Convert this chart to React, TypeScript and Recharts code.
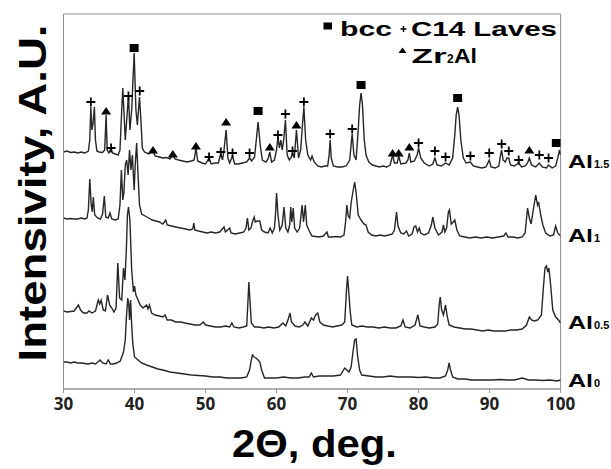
import React from "react";
import { ComposedChart, Line, Scatter, XAxis, YAxis, ReferenceArea } from "recharts";

// 2-theta (deg) vs stacked intensity (a.u.)
const al15: [number, number][] = [
  [30, 237], [30.5, 238], [31, 236.5], [31.5, 237], [32, 236], [32.5, 237], [33, 236], [33.5, 238], [33.7, 249], [33.85, 282],
  [34, 259], [34.15, 265], [34.35, 282], [34.5, 249], [34.7, 238], [35, 237], [35.5, 236.5], [35.8, 239], [36, 274], [36.15, 239],
  [36.4, 236], [36.7, 241], [36.9, 236], [37.3, 235], [37.7, 234], [37.95, 239], [38.2, 279], [38.35, 301], [38.5, 279], [38.7, 249],
  [38.9, 269], [39.15, 294], [39.35, 259], [39.6, 279], [39.95, 336], [40.2, 279], [40.4, 264], [40.7, 292], [40.9, 269], [41.1, 241],
  [41.4, 237], [42, 235], [42.6, 238], [42.9, 233], [43.5, 232], [44, 231], [44.5, 231.5], [45, 230], [45.4, 234], [45.7, 230],
  [46.2, 229], [46.8, 228], [47.4, 227], [48, 228], [48.4, 229], [48.65, 241], [48.9, 228], [49.5, 226], [50, 225], [50.5, 231],
  [50.8, 225], [51.3, 226], [51.8, 226], [52.15, 235], [52.4, 229], [52.6, 239], [52.9, 259], [53.15, 231], [53.4, 226], [53.8, 233],
  [54.1, 225], [54.6, 225], [55.2, 226], [55.8, 227], [56.2, 231], [56.5, 228], [56.9, 232], [57.15, 249], [57.4, 267], [57.7, 244],
  [58, 229], [58.5, 227], [58.8, 230], [59.05, 237], [59.3, 227], [59.7, 229], [60, 239], [60.2, 252], [60.4, 241], [60.6, 249],
  [60.8, 239], [61, 249], [61.25, 269], [61.5, 234], [61.8, 229], [62.1, 232], [62.25, 236], [62.5, 231], [62.8, 259], [63.1, 231],
  [63.4, 239], [63.65, 264], [63.85, 282], [64.1, 249], [64.4, 234], [64.8, 229], [65, 233], [65.3, 227], [65.8, 223], [66.3, 222],
  [66.8, 223], [67.2, 223], [67.4, 234], [67.55, 249], [67.7, 231], [68, 223], [68.6, 222], [69.2, 222], [69.8, 223], [70.3, 229],
  [70.5, 244], [70.65, 255], [70.9, 234], [71.2, 229], [71.5, 259], [71.7, 284], [71.9, 296], [72.1, 284], [72.35, 249], [72.6, 234],
  [73, 227], [73.5, 224], [74, 223], [74.5, 222], [75, 223], [75.5, 222], [76, 224], [76.35, 234], [76.6, 226], [77, 226],
  [77.2, 233], [77.5, 225], [78.2, 226], [78.5, 229], [78.7, 236], [78.9, 227], [79.4, 228], [79.8, 234], [80, 241], [80.3, 231],
  [80.8, 226], [81.5, 223], [82, 225], [82.3, 231], [82.6, 224], [83.2, 223], [83.8, 226], [84.3, 224], [84.8, 231], [85.1, 254],
  [85.3, 274], [85.5, 282], [85.7, 274], [85.95, 249], [86.3, 231], [86.7, 226], [87.3, 227], [87.7, 223], [88.3, 222], [88.9, 221],
  [89.5, 222], [89.95, 229], [90.2, 222], [90.8, 221], [91.3, 223], [91.55, 234], [91.7, 239], [91.9, 229], [92.2, 227], [92.45, 231],
  [92.7, 231], [92.95, 224], [93.5, 223], [94.1, 226], [94.5, 222], [95, 223], [95.35, 226], [95.6, 231], [95.9, 224], [96.5, 222],
  [97, 226], [97.4, 222], [98, 221], [98.3, 224], [98.8, 221], [99.3, 223], [99.6, 231], [99.85, 239], [100, 234],
];

const al1: [number, number][] = [
  [30, 171], [30.5, 170], [31, 170.5], [31.5, 170], [32, 170], [32.5, 171], [33, 170], [33.3, 171], [33.5, 179], [33.7, 210],
  [33.9, 184], [34.05, 177], [34.2, 192], [34.4, 174], [34.8, 171], [35.2, 170], [35.5, 175], [35.75, 193], [35.95, 172], [36.3, 171],
  [36.55, 176], [36.8, 170], [37.3, 169], [37.7, 170], [37.95, 184], [38.15, 219], [38.35, 189], [38.5, 196], [38.7, 224], [38.9, 229],
  [39.1, 214], [39.3, 239], [39.5, 219], [39.7, 234], [39.95, 199], [40.1, 224], [40.3, 246], [40.5, 214], [40.7, 184], [41, 175],
  [41.5, 173], [42, 171], [42.5, 169], [43, 168], [43.5, 167], [44, 165], [44.4, 169], [44.6, 164], [45.2, 163], [45.8, 162],
  [46.5, 161], [47.2, 160], [47.8, 159], [48.2, 160], [48.35, 166], [48.5, 159], [49, 158], [49.6, 157], [50.2, 156], [50.8, 157],
  [51.4, 156], [52, 157], [52.6, 162], [52.8, 157], [53.4, 161], [53.6, 156], [54.2, 155], [54.8, 156], [55.4, 157], [55.7, 161],
  [55.9, 171], [56.1, 159], [56.4, 161], [56.6, 167], [56.85, 172], [57, 167], [57.3, 168], [57.65, 168], [57.9, 159], [58.3, 157],
  [58.8, 156], [59.1, 161], [59.4, 156], [59.7, 161], [59.85, 174], [60, 196], [60.2, 174], [60.45, 159], [60.8, 164], [61.05, 182],
  [61.3, 161], [61.6, 157], [61.85, 164], [62, 182], [62.15, 167], [62.35, 181], [62.55, 161], [62.9, 157], [63.25, 161], [63.45, 174],
  [63.6, 184], [63.8, 167], [64.05, 184], [64.25, 164], [64.6, 158], [65, 153], [65.5, 152.5], [66, 152], [66.6, 153], [67.1, 157],
  [67.3, 152], [67.8, 152], [68.4, 152.5], [69, 152], [69.5, 154], [69.75, 169], [69.9, 184], [70.1, 173], [70.3, 171], [70.5, 186],
  [70.8, 199], [71, 207], [71.2, 197], [71.5, 174], [71.9, 169], [72.3, 165], [72.6, 164], [72.9, 157], [73.4, 154], [74, 153],
  [74.6, 154], [75.2, 153], [75.8, 154], [76.3, 155], [76.6, 159], [76.9, 177], [77.1, 163], [77.5, 156], [77.9, 155], [78.3, 158],
  [78.6, 153], [79.1, 155], [79.35, 162], [79.6, 163], [79.85, 157], [80.1, 161], [80.3, 156], [80.8, 154], [81.4, 156], [81.8, 164],
  [82, 172], [82.3, 161], [82.8, 154], [83.3, 157], [83.5, 164], [83.7, 157], [83.95, 161], [84.2, 177], [84.35, 179], [84.6, 165],
  [84.9, 167], [85.1, 169], [85.4, 159], [85.8, 153], [86.5, 152], [87.2, 151], [88, 152], [88.8, 151], [89.6, 152], [90.4, 151],
  [91.2, 152], [92, 153], [92.3, 156], [92.6, 152], [93.3, 152], [94, 151], [94.6, 152], [95, 156], [95.35, 181], [95.6, 171],
  [95.85, 165], [96.15, 179], [96.5, 194], [96.75, 184], [96.9, 187], [97.2, 174], [97.5, 164], [97.9, 156], [98.5, 153], [99, 154],
  [99.3, 163], [99.6, 156], [100, 153],
];

const al05: [number, number][] = [
  [30, 78], [30.5, 77], [31, 77.5], [31.5, 78], [32.1, 84], [32.4, 79], [32.8, 76], [33.3, 76], [33.6, 78], [34, 76],
  [34.5, 78], [34.9, 89], [35.1, 85], [35.3, 89], [35.6, 79], [35.9, 78], [36.2, 94], [36.5, 84], [36.8, 81], [37.1, 77],
  [37.4, 81], [37.65, 126], [37.9, 91], [38.2, 89], [38.45, 121], [38.65, 109], [38.85, 139], [39, 174], [39.15, 182], [39.35, 169],
  [39.6, 119], [39.85, 97], [40, 103], [40.2, 94], [40.5, 89], [40.8, 84], [41.2, 81], [41.7, 84], [41.9, 80], [42.1, 84],
  [42.4, 76], [42.9, 74], [43.5, 73], [44, 72], [44.3, 74], [44.6, 69], [45.2, 69], [45.8, 67], [46.5, 67], [47.1, 66],
  [47.8, 65], [48.5, 64], [49.2, 64], [49.7, 67], [50, 64], [50.7, 63], [51.4, 62], [52.1, 62], [52.8, 63], [53.4, 62],
  [53.7, 66], [54, 62], [54.7, 61], [55.3, 62], [55.8, 63], [55.95, 84], [56.1, 107], [56.25, 89], [56.45, 66], [56.9, 62],
  [57.5, 62], [58.2, 61], [58.9, 62], [59.6, 61], [60.3, 62], [60.9, 66], [61.3, 63], [61.7, 71], [61.9, 76], [62.1, 67],
  [62.6, 63], [63.2, 62], [63.7, 64], [64, 67], [64.4, 63], [64.9, 71], [65.2, 69], [65.5, 74], [65.8, 76], [66.1, 67],
  [66.6, 64], [67.2, 63], [67.9, 62], [68.5, 63], [69.2, 64], [69.6, 67], [69.85, 99], [70, 113], [70.15, 99], [70.35, 79],
  [70.6, 64], [71.3, 62], [72, 63], [72.8, 62], [73.6, 62], [74.4, 61], [75.2, 62], [76, 61], [76.8, 61], [77.5, 63],
  [77.8, 69], [78.1, 62], [78.8, 61], [79.5, 64], [79.9, 74], [80.2, 63], [80.8, 62], [81.5, 61], [82.3, 62], [82.7, 65],
  [82.9, 84], [83.05, 92], [83.25, 79], [83.5, 74], [83.8, 84], [84, 74], [84.3, 64], [85, 62], [85.8, 61], [86.6, 60],
  [87.4, 60], [88.2, 59], [89, 58], [89.8, 59], [90.6, 58], [91.4, 58], [92.2, 58], [93, 59], [93.8, 59], [94.6, 60],
  [95.2, 64], [95.6, 72], [95.9, 69], [96.3, 68], [96.8, 69], [97.3, 74], [97.55, 99], [97.8, 121], [98, 123], [98.2, 117],
  [98.35, 121], [98.6, 104], [98.9, 79], [99.3, 72], [99.7, 69], [100, 66],
];

const al0: [number, number][] = [
  [30, 27], [30.5, 27], [31, 26], [31.5, 27], [32, 26], [32.5, 26], [33, 25.5], [33.5, 25], [34, 26], [34.5, 25],
  [35.15, 29], [35.5, 26], [36, 25], [36.3, 29], [36.6, 25], [37, 25], [37.5, 26], [38, 28], [38.45, 37], [38.7, 49],
  [38.85, 71], [39.05, 91], [39.2, 84], [39.3, 69], [39.45, 89], [39.6, 64], [39.75, 46], [40, 32], [40.5, 29], [41, 26],
  [41.7, 24], [42.5, 22], [43.3, 20], [44, 19], [45, 17], [46, 16], [47, 15], [48, 14], [49, 13.5], [50, 13],
  [51, 12], [52, 12], [53, 11], [54, 11], [55, 11], [55.8, 12], [56.2, 19], [56.45, 29], [56.6, 34], [56.85, 32],
  [57.1, 31], [57.4, 29], [57.65, 27], [57.9, 19], [58.3, 11], [59, 11], [60, 11], [61, 12], [62, 11], [63, 11],
  [64, 12], [64.6, 12], [64.9, 16], [65.2, 12], [66, 13], [67, 13], [68, 13], [69, 14], [69.6, 21], [69.9, 19],
  [70.2, 17], [70.5, 22], [70.8, 39], [71, 49], [71.2, 50], [71.4, 34], [71.7, 19], [72, 14], [73, 13], [74, 12],
  [75, 12], [76, 13], [77, 12], [78, 12], [79, 12], [80, 11.5], [81, 12], [82, 11], [83, 11], [83.8, 13],
  [84.1, 19], [84.3, 26], [84.5, 19], [84.8, 12], [85.5, 10], [86.5, 10], [87.5, 9], [88.5, 9], [89.5, 9], [90.5, 9],
  [91.5, 9.5], [92.5, 9], [93.5, 9], [94.6, 11], [95.5, 9], [96.5, 9], [97.5, 8.5], [98.5, 9], [99.5, 8], [100, 9],
];

// phase markers on the Al1.5 pattern
const bccPeaks: [number, number][] = [[39.95, 341], [57.4, 278], [71.9, 304], [85.5, 291], [99.4, 246]];
const lavesPeaks: [number, number][] = [
  [33.85, 287], [36.7, 241], [39.15, 293], [40.73, 298], [50.5, 232], [52.15, 237], [53.8, 236], [56.2, 236],
  [60.2, 254], [61.25, 275], [62.25, 238], [63.85, 287], [67.55, 255], [70.65, 260], [80.0, 246], [82.3, 238],
  [83.8, 232], [87.3, 233], [89.95, 236], [91.7, 245], [92.7, 238], [94.1, 229], [97.0, 234], [98.3, 231],
];
const zr2alPeaks: [number, number][] = [
  [36.0, 278], [42.6, 239], [45.4, 235], [48.65, 243], [52.9, 267], [59.05, 242], [62.8, 264],
  [76.35, 236], [77.2, 236], [78.7, 242], [95.6, 239],
];

const xTicks = [30, 40, 50, 60, 70, 80, 90, 100];

const toPts = (arr: [number, number][]) => arr.map(([x, y]) => ({ x, y }));

const W = 611;
const H = 469;
const LINE = "#262626";
const BOLD = "'Liberation Sans', Arial, sans-serif";

const Square = (p: any) => <rect x={p.cx - 4.5} y={p.cy - 4} width={9} height={8} fill="#000" />;
const Plus = (p: any) => (
  <path d={`M${p.cx - 4.5},${p.cy}H${p.cx + 4.5}M${p.cx},${p.cy - 4.5}V${p.cy + 4.5}`} stroke="#000" strokeWidth={1.8} />
);
const Tri = (p: any) => (
  <path d={`M${p.cx},${p.cy - 4}L${p.cx + 5},${p.cy + 3.5}L${p.cx - 5},${p.cy + 3.5}Z`} fill="#000" />
);

const Tick = (p: any) => (
  <text x={p.x} y={p.y + 15} textAnchor="middle" fontFamily="'Open Sans', sans-serif" fontWeight={700} fontSize={17} fill="#222">
    {p.payload.value}
  </text>
);

function AlLabel({ y, sub }: { y: number; sub: string }) {
  return (
    <text y={y} fontFamily={BOLD} fontWeight={700} fill="#000">
      <tspan x={568} fontSize={19} textLength={25} lengthAdjust="spacingAndGlyphs">Al</tspan>
      <tspan fontSize={11} dx={1}>{sub}</tspan>
    </text>
  );
}

export default function App() {
  return (
    <div style={{ position: "relative", width: W, height: H, background: "#fff" }}>
      <style>{"body{margin:0}"}</style>
      <ComposedChart width={W} height={H} margin={{ top: 14, right: 50.4, bottom: 50, left: 63.5 }}>
        <XAxis
          type="number"
          dataKey="x"
          domain={[30, 100]}
          ticks={xTicks}
          allowDataOverflow
          stroke="#999"
          tickSize={4}
          tick={<Tick />}
          height={30}
        />
        <YAxis type="number" dataKey="y" domain={[0, 375]} hide allowDataOverflow />
        <ReferenceArea x1={30} x2={100} y1={0} y2={375} fill="none" stroke="#8f8f8f" strokeWidth={1} />
        <Line data={toPts(al15)} dataKey="y" type="linear" stroke={LINE} strokeWidth={1.4} dot={false} isAnimationActive={false} />
        <Line data={toPts(al1)} dataKey="y" type="linear" stroke={LINE} strokeWidth={1.4} dot={false} isAnimationActive={false} />
        <Line data={toPts(al05)} dataKey="y" type="linear" stroke={LINE} strokeWidth={1.4} dot={false} isAnimationActive={false} />
        <Line data={toPts(al0)} dataKey="y" type="linear" stroke={LINE} strokeWidth={1.4} dot={false} isAnimationActive={false} />
        <Scatter data={toPts(bccPeaks)} dataKey="y" shape={<Square />} isAnimationActive={false} />
        <Scatter data={toPts(lavesPeaks)} dataKey="y" shape={<Plus />} isAnimationActive={false} />
        <Scatter data={toPts(zr2alPeaks)} dataKey="y" shape={<Tri />} isAnimationActive={false} />
      </ComposedChart>
      <svg width={W} height={H} style={{ position: "absolute", left: 0, top: 0, pointerEvents: "none" }}>
        <text
          transform="translate(46,193) rotate(-90)"
          textAnchor="middle"
          fontFamily={BOLD}
          fontWeight={700}
          fontSize={38}
          textLength={337}
          lengthAdjust="spacingAndGlyphs"
          fill="#000"
        >
          Intensivity, A.U.
        </text>
        <text x={314.5} y={457} textAnchor="middle" fontFamily={BOLD} fontWeight={700} fontSize={39} textLength={165} lengthAdjust="spacingAndGlyphs" fill="#000">
          2Θ, deg.
        </text>
        {/* legend */}
        <rect x={323.5} y={22.5} width={8.5} height={7} fill="#000" />
        <text x={340} y={36} fontFamily={BOLD} fontWeight={700} fontSize={21} textLength={52} lengthAdjust="spacingAndGlyphs">bcc</text>
        <path d="M400.5,29H406.5M403.5,26V32" stroke="#000" strokeWidth={1.4} />
        <text x={411} y={36} fontFamily={BOLD} fontWeight={700} fontSize={21} textLength={146} lengthAdjust="spacingAndGlyphs">C14 Laves</text>
        <path d="M402.5,47.5L406.5,53L398.5,53Z" fill="#000" />
        <text y={62.5} fontFamily={BOLD} fontWeight={700}>
          <tspan x={411.5} fontSize={21} textLength={35} lengthAdjust="spacingAndGlyphs">Zr</tspan>
          <tspan x={447} fontSize={12}>2</tspan>
          <tspan x={454} fontSize={21} textLength={23} lengthAdjust="spacingAndGlyphs">Al</tspan>
        </text>
        <AlLabel y={168} sub="1.5" />
        <AlLabel y={242} sub="1" />
        <AlLabel y={329} sub="0.5" />
        <AlLabel y={387} sub="0" />
      </svg>
    </div>
  );
}
